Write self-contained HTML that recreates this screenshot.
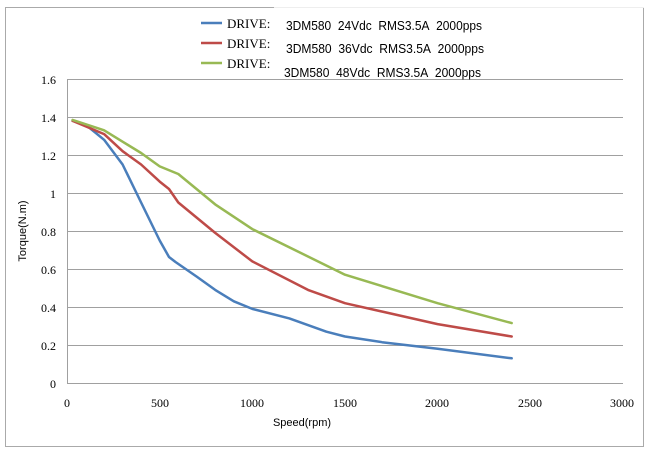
<!DOCTYPE html>
<html><head><style>body{margin:0;background:#fff}svg{display:block}</style></head><body>
<svg width="650" height="451" xmlns="http://www.w3.org/2000/svg">
<rect x="5.5" y="7.5" width="638" height="439" fill="#fff" stroke="#aaa"/>
<g stroke="#a0a0a0" stroke-width="1">
<line x1="67" y1="79.5" x2="623" y2="79.5"/><line x1="67" y1="117.5" x2="623" y2="117.5"/>
<line x1="67" y1="155.5" x2="623" y2="155.5"/><line x1="67" y1="193.5" x2="623" y2="193.5"/>
<line x1="67" y1="231.5" x2="623" y2="231.5"/><line x1="67" y1="269.5" x2="623" y2="269.5"/>
<line x1="67" y1="307.5" x2="623" y2="307.5"/><line x1="67" y1="345.5" x2="623" y2="345.5"/>
<line x1="67" y1="383.5" x2="623" y2="383.5"/><line x1="67.5" y1="79" x2="67.5" y2="383"/>
</g>
<g font-family="Liberation Serif, serif" font-size="12" fill="#000" text-anchor="end">
<text x="56" y="84">1.6</text><text x="56" y="122">1.4</text><text x="56" y="160">1.2</text>
<text x="56" y="198">1</text><text x="56" y="236">0.8</text><text x="56" y="274">0.6</text>
<text x="56" y="312">0.4</text><text x="56" y="350">0.2</text><text x="56" y="388">0</text>
</g>
<g font-family="Liberation Serif, serif" font-size="12" fill="#000" text-anchor="middle">
<text x="67" y="407">0</text><text x="160" y="407">500</text><text x="252" y="407">1000</text>
<text x="345" y="407">1500</text><text x="437" y="407">2000</text><text x="530" y="407">2500</text><text x="622" y="407">3000</text>
</g>
<text x="302" y="426" font-family="Liberation Sans, sans-serif" font-size="11" text-anchor="middle">Speed(rpm)</text>
<text transform="translate(26,231) rotate(-90)" font-family="Liberation Sans, sans-serif" font-size="11" text-anchor="middle">Torque(N.m)</text>
<g fill="none" stroke-width="2.5" stroke-linejoin="round" stroke-linecap="round">
<path stroke="#4a7ebb" d="M72.6,120.8 L85.5,124.6 L104.1,139.8 L122.6,164.5 L141.1,202.5 L159.7,240.5 L169,257 L175.5,262 L196.7,276.6 L215.2,289.9 L233.8,301.3 L252.3,308.9 L289.4,318.4 L326.4,331.7 L345,336.5 L382,342.2 L437.6,348.8 L511.7,358.3"/>
<path stroke="#be4b48" d="M72.6,120.8 L104.1,134.1 L122.6,151.2 L141.1,164.5 L159.7,181.6 L169,189 L178.3,202.5 L215.2,232.9 L252.3,261.4 L308,289.9 L345,303.2 L437.6,324.1 L511.7,336.5"/>
<path stroke="#98b954" d="M72.6,119.9 L104.1,130.3 L122.6,141.7 L141.1,153 L159.7,166.4 L178.3,174 L215.2,204.4 L252.3,229.1 L345,274.7 L437.6,303.2 L511.7,323.1"/>
</g>
<rect x="274" y="6" width="265" height="73" fill="#fff"/>
<line x1="274" y1="7.5" x2="644" y2="7.5" stroke="#eee"/>
<g stroke-width="2.5">
<line x1="201" y1="23" x2="222" y2="23" stroke="#4a7ebb"/>
<line x1="201" y1="43" x2="222" y2="43" stroke="#be4b48"/>
<line x1="201" y1="63" x2="222" y2="63" stroke="#98b954"/>
</g>
<g font-family="Liberation Serif, serif" font-size="13">
<text x="227" y="28">DRIVE:</text><text x="227" y="48">DRIVE:</text><text x="227" y="68">DRIVE:</text>
</g>
<g font-family="Liberation Sans, sans-serif" font-size="12.5">
<text x="286" y="30" textLength="196" lengthAdjust="spacingAndGlyphs">3DM580&#160; 24Vdc&#160; RMS3.5A&#160; 2000pps</text>
<text x="286" y="53" textLength="198" lengthAdjust="spacingAndGlyphs">3DM580&#160; 36Vdc&#160; RMS3.5A&#160; 2000pps</text>
<text x="284" y="77" textLength="197" lengthAdjust="spacingAndGlyphs">3DM580&#160; 48Vdc&#160; RMS3.5A&#160; 2000pps</text>
</g>
</svg>
</body></html>
